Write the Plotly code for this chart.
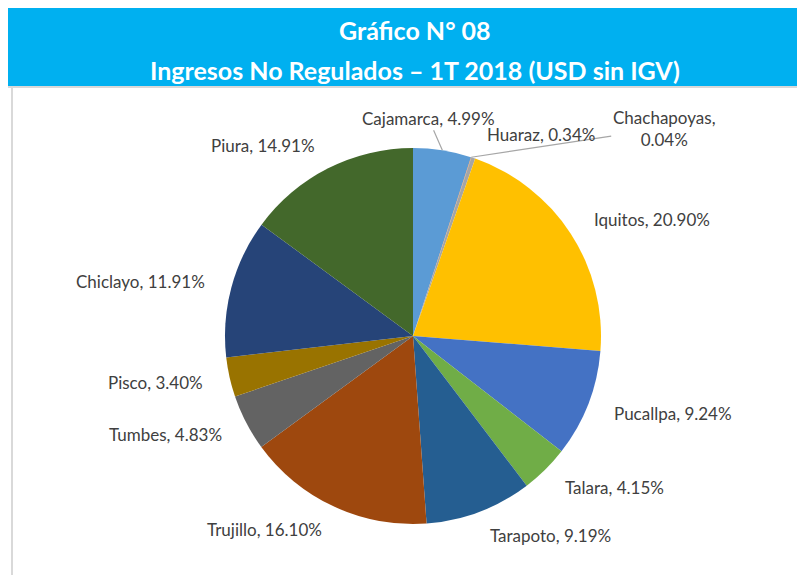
import math
import plotly.graph_objects as go

# datos del grafico (porcentajes)
ciudades = ['Cajamarca', 'Chachapoyas', 'Huaraz', 'Iquitos', 'Pucallpa', 'Talara',
            'Tarapoto', 'Trujillo', 'Tumbes', 'Pisco', 'Chiclayo', 'Piura']
porcentajes = [4.99, 0.04, 0.34, 20.90, 9.24, 4.15, 9.19, 16.10, 4.83, 3.40, 11.91, 14.91]
colores = ['#5B9BD5', '#ED7D31', '#A5A5A5', '#FFC000', '#4472C4', '#70AD47',
           '#255E91', '#9E480E', '#636363', '#997300', '#264478', '#43682B']

titulo1 = 'Gráfico N° 08'
titulo2 = 'Ingresos No Regulados – 1T 2018 (USD sin IGV)'

# la pagina tiene 8px de margen en el body, se trabaja en coordenadas de pagina
OFF = 8
W, H = 805 - OFF, 578 - OFF
cx, cy, r = 413, 336, 188   # centro y radio del pie (pixeles de pagina)
r_lab = 213                 # radio donde se apoyan las etiquetas

# etiquetas pequeñas de arriba: desplazamiento del texto respecto al borde del sector
ajustes = {'Cajamarca': (-14, -32, True),
           'Huaraz': (68, -23, False),
           'Chachapoyas': (193, -29, True)}

COLOR_TXT = '#404040'
FUENTE = 'Lato'


def px(x, y):
    return (x - OFF) / W, 1 - (y - OFF) / H


fig = go.Figure()

fig.add_trace(go.Pie(labels=ciudades, values=porcentajes, textinfo='none',
                     sort=False, direction='clockwise', rotation=0,
                     domain=dict(x=[(cx - r - OFF) / W, (cx + r - OFF) / W],
                                 y=[1 - (cy + r - OFF) / H, 1 - (cy - r - OFF) / H]),
                     marker=dict(colors=colores, line=dict(width=0)),
                     showlegend=False))

# etiquetas: posicion calculada con el angulo medio de cada sector
acum = 0
for c, p in zip(ciudades, porcentajes):
    ang = math.radians(360 * (acum + p / 2) / 100)
    acum += p
    sep = ',<br>' if len(c) > 10 else ', '
    txt = f'{c}{sep}{p:.2f}%'
    s, co = math.sin(ang), math.cos(ang)
    if c in ajustes:
        dx, dy, flecha = ajustes[c]
        bx, by = cx + r * s, cy - r * co
        if flecha:
            x, y = px(bx, by)
            fig.add_annotation(text=txt, x=x, y=y, xref='paper', yref='paper',
                               showarrow=True, arrowhead=0, arrowwidth=1.2,
                               arrowcolor='#A6A6A6', ax=dx, ay=dy,
                               font=dict(family=FUENTE, size=17, color=COLOR_TXT))
        else:
            x, y = px(bx + dx, by + dy)
            fig.add_annotation(text=txt, x=x, y=y, xref='paper', yref='paper',
                               showarrow=False, xanchor='center', yanchor='middle',
                               font=dict(family=FUENTE, size=17, color=COLOR_TXT))
        continue
    x, y = px(cx + r_lab * s, cy - r_lab * co)
    fig.add_annotation(text=txt, x=x, y=y, xref='paper', yref='paper', showarrow=False,
                       xanchor='left' if s > 0 else 'right', yanchor='middle',
                       font=dict(family=FUENTE, size=17, color=COLOR_TXT))

# franja azul del titulo y bordes
x0, y0 = px(8, 86)
fig.add_shape(type='rect', xref='paper', yref='paper', x0=x0, x1=1, y0=y0, y1=1,
              fillcolor='#00B0F0', line_width=0, layer='below')
xa, ya = px(8, 87)
fig.add_shape(type='line', xref='paper', yref='paper', x0=xa, x1=1, y0=ya, y1=ya,
              line=dict(color='#D9D9D9', width=2))
xb, yb = px(12, 575)
fig.add_shape(type='line', xref='paper', yref='paper', x0=xb, x1=xb, y0=yb, y1=ya,
              line=dict(color='#D9D9D9', width=2))

for t, yy in [(titulo1, 30), (titulo2, 70)]:
    x, y = px(415, yy)
    fig.add_annotation(text=t, xref='paper', yref='paper', x=x, y=y,
                       xanchor='center', yanchor='middle', showarrow=False,
                       font=dict(family=FUENTE, size=25, color='white', weight='bold'))

fig.update_layout(width=W, height=H, margin=dict(l=0, r=0, t=0, b=0),
                  paper_bgcolor='white', plot_bgcolor='white')

fig.write_html('out.html')
